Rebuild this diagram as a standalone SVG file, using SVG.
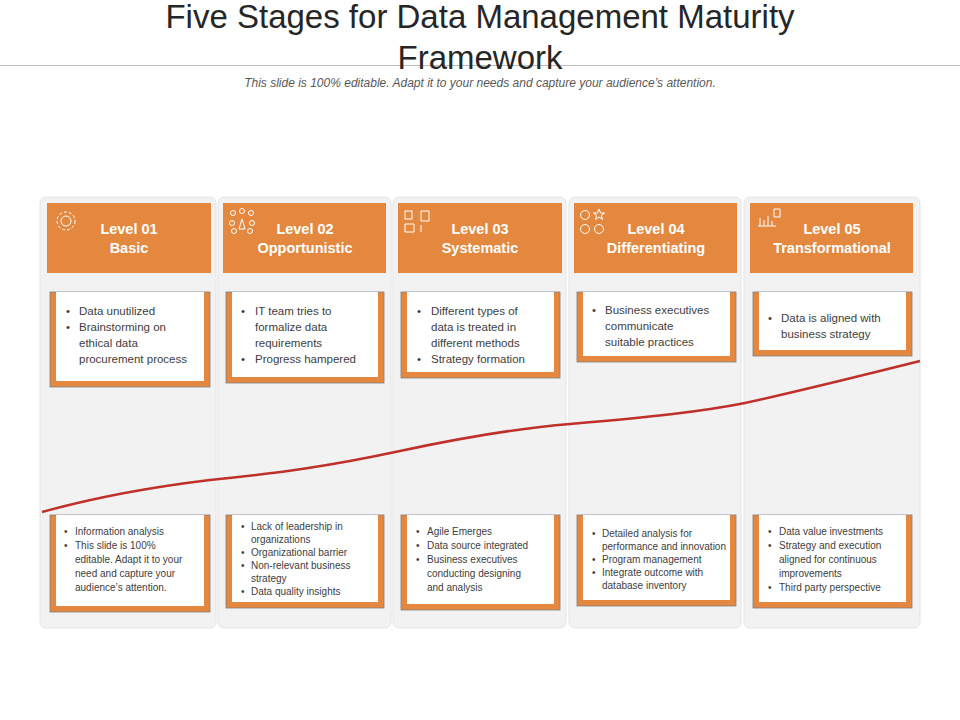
<svg xmlns="http://www.w3.org/2000/svg" width="960" height="720" viewBox="0 0 960 720">
<style>
.t{font-family:"Liberation Sans",Arial,sans-serif}
.h{font-family:"Liberation Sans",Arial,sans-serif;font-weight:bold;font-size:14.5px;fill:#fff;text-anchor:middle}
.b{font-family:"Liberation Sans",Arial,sans-serif;font-size:11.5px;fill:#404040}
.s{font-family:"Liberation Sans",Arial,sans-serif;font-size:10px;fill:#404040}
.col{fill:#f2f2f2;stroke:#e4e4e4}
.hd{fill:#e5883f}
.ob{fill:#e5883f;stroke:#7f7f7f;stroke-width:0.8}
.wb{fill:#fff}
.ic{fill:none;stroke:#fff;stroke-width:1}
</style>
<rect width="960" height="720" fill="#fff"/>
<line x1="0" y1="65.5" x2="960" y2="65.5" stroke="#bfbfbf"/>
<text class="t" x="480" y="28" font-size="33" text-anchor="middle" fill="#262626">Five Stages for Data Management Maturity</text>
<text class="t" x="480" y="69" font-size="33" text-anchor="middle" fill="#262626">Framework</text>
<text class="t" x="480" y="87" font-size="12" font-style="italic" text-anchor="middle" fill="#595959">This slide is 100% editable. Adapt it to your needs and capture your audience’s attention.</text>

<g id="columns">
<rect class="col" x="40" y="197" width="176" height="431" rx="6"/>
<rect class="col" x="218" y="197" width="173" height="431" rx="6"/>
<rect class="col" x="393" y="197" width="173" height="431" rx="6"/>
<rect class="col" x="569" y="197" width="172" height="431" rx="6"/>
<rect class="col" x="744" y="197" width="176" height="431" rx="6"/>
</g>

<g id="level1">
<rect class="hd" x="47" y="203" width="164" height="70"/>
<circle class="ic" cx="66" cy="221" r="5"/><circle class="ic" cx="66" cy="221" r="9" stroke-dasharray="3 2"/>
<text class="h" x="129" y="234">Level 01</text><text class="h" x="129" y="253">Basic</text>
<rect class="ob" x="50" y="292" width="160" height="95"/><rect class="wb" x="56" y="292" width="148" height="89"/>
<text class="b"><tspan x="66" y="315">•</tspan><tspan x="79" y="315">Data unutilized</tspan><tspan x="66" y="331">•</tspan><tspan x="79" y="331">Brainstorming on</tspan><tspan x="79" y="347">ethical data</tspan><tspan x="79" y="363">procurement process</tspan></text>
<rect class="ob" x="50" y="515" width="160" height="97"/><rect class="wb" x="56" y="515" width="148" height="91"/>
<text class="s"><tspan x="64" y="535">•</tspan><tspan x="75" y="535">Information  analysis</tspan><tspan x="64" y="549">•</tspan><tspan x="75" y="549">This slide is  100%</tspan><tspan x="75" y="563">editable. Adapt it to your</tspan><tspan x="75" y="577">need and capture your</tspan><tspan x="75" y="591">audience’s attention.</tspan></text>
</g>

<g id="level2">
<rect class="hd" x="223" y="203" width="163" height="70"/>
<circle class="ic" cx="233" cy="213" r="2.5"/><circle class="ic" cx="242" cy="211" r="2.5"/><circle class="ic" cx="251" cy="213" r="2.5"/><circle class="ic" cx="232" cy="223" r="2.5"/><circle class="ic" cx="252" cy="223" r="2.5"/><circle class="ic" cx="234" cy="231" r="2.5"/><circle class="ic" cx="250" cy="231" r="2.5"/><path class="ic" d="M239 229 L242 219 L245 229 Z"/>
<text class="h" x="305" y="234">Level 02</text><text class="h" x="305" y="253">Opportunistic</text>
<rect class="ob" x="226" y="292" width="158" height="91"/><rect class="wb" x="232" y="292" width="146" height="85"/>
<text class="b"><tspan x="241" y="315">•</tspan><tspan x="255" y="315">IT team tries to</tspan><tspan x="255" y="331">formalize data</tspan><tspan x="255" y="347">requirements</tspan><tspan x="241" y="363">•</tspan><tspan x="255" y="363">Progress  hampered</tspan></text>
<rect class="ob" x="226" y="515" width="158" height="93"/><rect class="wb" x="232" y="515" width="146" height="87"/>
<text class="s" font-size="9.5"><tspan x="241" y="530">•</tspan><tspan x="251" y="530">Lack of leadership in</tspan><tspan x="251" y="543">organizations</tspan><tspan x="241" y="556">•</tspan><tspan x="251" y="556">Organizational barrier</tspan><tspan x="241" y="569">•</tspan><tspan x="251" y="569">Non-relevant business</tspan><tspan x="251" y="582">strategy</tspan><tspan x="241" y="595">•</tspan><tspan x="251" y="595">Data quality insights</tspan></text>
</g>

<g id="level3">
<rect class="hd" x="398" y="203" width="164" height="70"/>
<rect class="ic" x="405" y="211" width="7" height="8"/><path class="ic" d="M421 211 h8 v10 h-8z M405 224 h9 v8 h-9z M421 225 v7"/>
<text class="h" x="480" y="234">Level 03</text><text class="h" x="480" y="253">Systematic</text>
<rect class="ob" x="401" y="292" width="159" height="86"/><rect class="wb" x="407" y="292" width="147" height="80"/>
<text class="b"><tspan x="417" y="315">•</tspan><tspan x="431" y="315">Different types of</tspan><tspan x="431" y="331">data is treated in</tspan><tspan x="431" y="347">different methods</tspan><tspan x="417" y="363">•</tspan><tspan x="431" y="363">Strategy formation</tspan></text>
<rect class="ob" x="401" y="515" width="159" height="95"/><rect class="wb" x="407" y="515" width="147" height="89"/>
<text class="s"><tspan x="416" y="535">•</tspan><tspan x="427" y="535">Agile Emerges</tspan><tspan x="416" y="549">•</tspan><tspan x="427" y="549">Data source integrated</tspan><tspan x="416" y="563">•</tspan><tspan x="427" y="563">Business executives</tspan><tspan x="427" y="577">conducting designing</tspan><tspan x="427" y="591">and analysis</tspan></text>
</g>

<g id="level4">
<rect class="hd" x="574" y="203" width="163" height="70"/>
<circle class="ic" cx="585" cy="215" r="4.5"/><path class="ic" d="M599 209 l1.5 4 h4 l-3.2 2.5 1.2 4 -3.5-2.5 -3.5 2.5 1.2-4 -3.2-2.5 h4z"/><circle class="ic" cx="585" cy="229" r="4.5"/><circle class="ic" cx="599" cy="229" r="4.5"/>
<text class="h" x="656" y="234">Level 04</text><text class="h" x="656" y="253">Differentiating</text>
<rect class="ob" x="577" y="292" width="159" height="70"/><rect class="wb" x="583" y="292" width="147" height="64"/>
<text class="b"><tspan x="592" y="314">•</tspan><tspan x="605" y="314">Business executives</tspan><tspan x="605" y="330">communicate</tspan><tspan x="605" y="346">suitable practices</tspan></text>
<rect class="ob" x="577" y="515" width="159" height="91"/><rect class="wb" x="583" y="515" width="147" height="85"/>
<text class="s" font-size="9.5"><tspan x="592" y="537">•</tspan><tspan x="602" y="537">Detailed analysis for</tspan><tspan x="602" y="550">performance and innovation</tspan><tspan x="592" y="563">•</tspan><tspan x="602" y="563">Program management</tspan><tspan x="592" y="576">•</tspan><tspan x="602" y="576">Integrate outcome with</tspan><tspan x="602" y="589">database inventory</tspan></text>
</g>

<g id="level5">
<rect class="hd" x="750" y="203" width="163" height="70"/>
<path class="ic" d="M758 226 h18 M760 226 v-8 M764 226 v-6 M768 226 v-10 M772 226 v-5 M774 209 h6 v8 h-6z"/>
<text class="h" x="832" y="234">Level 05</text><text class="h" x="832" y="253">Transformational</text>
<rect class="ob" x="753" y="292" width="159" height="64"/><rect class="wb" x="759" y="292" width="147" height="58"/>
<text class="b"><tspan x="768" y="322">•</tspan><tspan x="781" y="322">Data is aligned with</tspan><tspan x="781" y="338">business strategy</tspan></text>
<rect class="ob" x="753" y="515" width="159" height="93"/><rect class="wb" x="759" y="515" width="147" height="87"/>
<text class="s"><tspan x="768" y="535">•</tspan><tspan x="779" y="535">Data value investments</tspan><tspan x="768" y="549">•</tspan><tspan x="779" y="549">Strategy and execution</tspan><tspan x="779" y="563">aligned for continuous</tspan><tspan x="779" y="577">improvements</tspan><tspan x="768" y="591">•</tspan><tspan x="779" y="591">Third party perspective</tspan></text>
</g>

<g id="connectors">
<path d="M42 512 C100 496 160 486 210 480 C280 473 330 466 400 451 C470 436 520 428 570 424 C650 417 700 412 745 403 C800 391 860 376 920 361" fill="none" stroke="#c0302a" stroke-width="2.5"/>
</g>
</svg>
